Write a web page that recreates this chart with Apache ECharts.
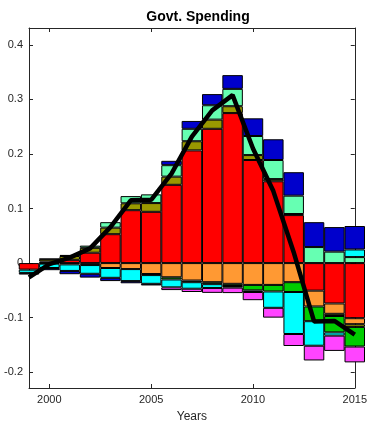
<!DOCTYPE html>
<html>
<head>
<meta charset="utf-8">
<script src="https://cdn.jsdelivr.net/npm/echarts@6/dist/echarts.min.js"></script>
<style>
html,body{margin:0;padding:0;background:#fff;}
#c{width:370px;height:428px;}
</style>
</head>
<body>
<div id="c"></div>
<script>
var years = ['1999','2000','2001','2002','2003','2004','2005','2006','2007','2008','2009','2010','2011','2012','2013','2014','2015'];
var redVals     = [-0.012, 0.003, 0.006, 0.019, 0.053, 0.097, 0.094, 0.1435, 0.2066, 0.2462, 0.275, 0.189, 0.150, 0.088, -0.0505, -0.074, -0.101];
var orangeVals  = [0, -0.001, -0.0024, -0.0036, -0.009, -0.011, -0.02, -0.026, -0.032, -0.035, -0.038, -0.040, -0.040, -0.035, -0.029, -0.019, -0.011];
var oliveVals   = [0, 0.004, 0.007, 0.009, 0.012, 0.0126, 0.016, 0.015, 0.0168, 0.0168, 0.0126, 0.009, 0.004, 0.002, 0, -0.004, -0.005];
var greenVals   = [0, 0, 0, 0, 0, 0, -0.002, -0.004, -0.003, -0.0036, -0.004, -0.01, -0.012, -0.018, -0.027, -0.030, -0.036];
var aquaVals    = [0, 0.001, 0.002, 0.004, 0.010, 0.0132, 0.016, 0.021, 0.0228, 0.0264, 0.0318, 0.035, 0.035, 0.0336, 0.0294, 0.021, 0.011];
var cyanVals    = [-0.006, -0.008, -0.012, -0.016, -0.018, -0.022, -0.016, -0.0145, -0.012, -0.007, -0.003, -0.003, -0.030, -0.077, -0.045, -0.006, 0.014];
var magentaVals = [0, 0, 0, 0, 0, 0, 0, -0.005, -0.006, -0.009, -0.010, -0.015, -0.018, -0.022, -0.027, -0.028, -0.029];
var blueVals    = [-0.003, -0.004, -0.006, -0.007, -0.006, -0.004, -0.003, 0.008, 0.0144, 0.0204, 0.0252, 0.0324, 0.038, 0.043, 0.0456, 0.045, 0.043];
var lineVals    = [-0.026, -0.002, 0.010, 0.027, 0.066, 0.115, 0.116, 0.164, 0.232, 0.280, 0.308, 0.210, 0.132, 0.020, -0.107, -0.106, -0.131];
var yTicks = [-0.2, -0.1, 0, 0.1, 0.2, 0.3, 0.4];
var xTicks = ['2000', '2005', '2010', '2015'];

var seriesDefs = [
  {name:'red', vals:redVals, color:'#FF0000'},
  {name:'orange', vals:orangeVals, color:'#FF9933'},
  {name:'olive', vals:oliveVals, color:'#999900'},
  {name:'green', vals:greenVals, color:'#00CC00'},
  {name:'aqua', vals:aquaVals, color:'#66FFB2'},
  {name:'cyan', vals:cyanVals, color:'#00FFFF'},
  {name:'magenta', vals:magentaVals, color:'#FF44FF'},
  {name:'blue', vals:blueVals, color:'#0000CC'}
];

var series = seriesDefs.map(function(s){
  return {
    name: s.name, type:'bar', stack:'total', barWidth: 20.5, clip:true,
    itemStyle:{color:s.color, borderColor:'#000', borderWidth:1},
    emphasis:{disabled:true},
    data: s.vals.map(function(v){ return v === 0 ? '-' : v; })
  };
});
series.push({
  type:'line', name:'total', z:10, symbol:'none', clip:true,
  lineStyle:{color:'#000', width:4.5},
  data: lineVals
});

var axisCol = '#262626';
var font = 'Liberation Sans, Arial, Helvetica, sans-serif';
function isTick(i, v){ return xTicks.indexOf(String(v)) >= 0; }
var chart = echarts.init(document.getElementById('c'));
chart.setOption({
  animation:false,
  title:{text:'Govt. Spending', left:193, top:5, textAlign:'center',
    textStyle:{fontSize:14, fontWeight:'bold', color:'#000', fontFamily:font}},
  grid:{left:29, right:12, top:28, bottom:34},
  xAxis:[{
    type:'category', data:years, boundaryGap:false, position:'bottom',
    axisLine:{onZero:false, lineStyle:{color:axisCol, width:1}},
    axisTick:{inside:true, length:4, interval:isTick, lineStyle:{color:axisCol}},
    axisLabel:{interval:isTick, color:axisCol, fontSize:11, fontFamily:font, margin:6},
    splitLine:{show:false},
    name:'Years', nameLocation:'middle', nameGap:23,
    nameTextStyle:{fontSize:12, color:axisCol, fontFamily:font}
  },{
    type:'category', data:years, boundaryGap:false, position:'top',
    axisLine:{onZero:false, lineStyle:{color:axisCol, width:1}},
    axisTick:{inside:true, length:4, interval:isTick, lineStyle:{color:axisCol}},
    axisLabel:{show:false}, splitLine:{show:false}
  }],
  yAxis:[{
    type:'value', min:-0.229, max:0.431, position:'left',
    axisLine:{show:true, onZero:false, lineStyle:{color:axisCol, width:1}},
    axisTick:{show:true, inside:true, length:4, customValues:yTicks, lineStyle:{color:axisCol}},
    axisLabel:{customValues:yTicks, formatter:function(v){return String(Math.round(v*10)/10);}, color:axisCol, fontSize:11, fontFamily:font, margin:6},
    splitLine:{show:false}
  },{
    type:'value', min:-0.229, max:0.431, position:'right',
    axisLine:{show:true, onZero:false, lineStyle:{color:axisCol, width:1}},
    axisTick:{show:true, inside:true, length:4, customValues:yTicks, lineStyle:{color:axisCol}},
    axisLabel:{show:false}, splitLine:{show:false}
  }],
  series: series
});
</script>
</body>
</html>
